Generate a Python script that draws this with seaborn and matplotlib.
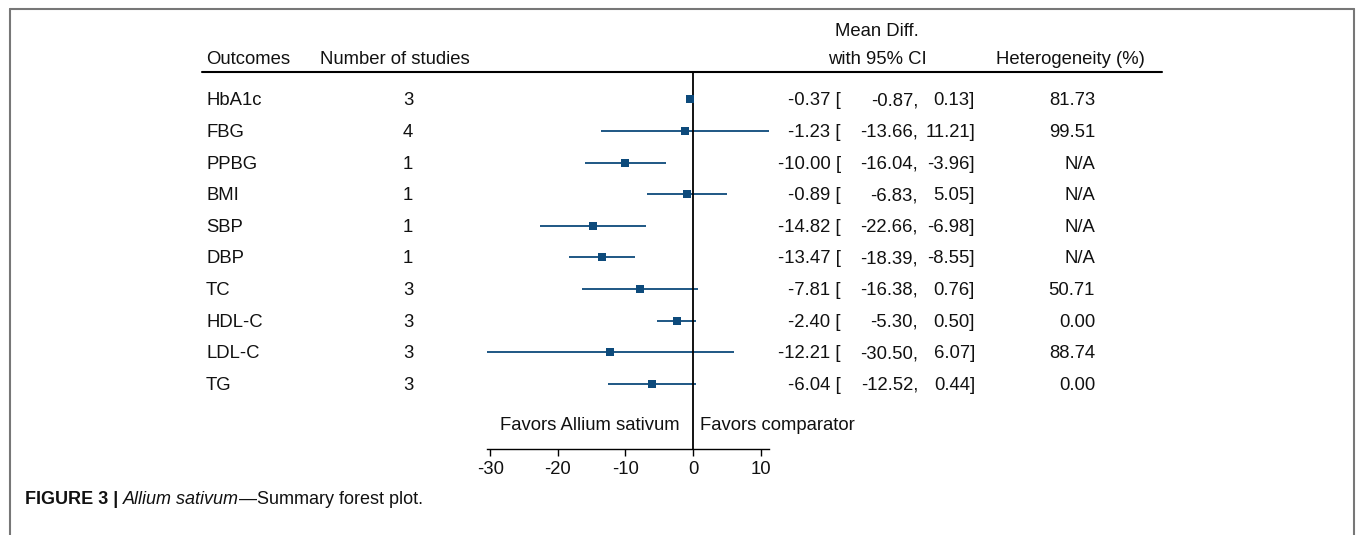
import matplotlib
matplotlib.use("Agg")
import matplotlib.pyplot as plt
import seaborn as sns
import pandas as pd
from matplotlib.transforms import blended_transform_factory
from matplotlib.lines import Line2D

# ---------------- data ----------------
outcomes = ["HbA1c", "FBG", "PPBG", "BMI", "SBP", "DBP", "TC", "HDL-C", "LDL-C", "TG"]
n_studies = [3, 4, 1, 1, 1, 1, 3, 3, 3, 3]
mean_diff = [-0.37, -1.23, -10.00, -0.89, -14.82, -13.47, -7.81, -2.40, -12.21, -6.04]
ci_low = [-0.87, -13.66, -16.04, -6.83, -22.66, -18.39, -16.38, -5.30, -30.50, -12.52]
ci_high = [0.13, 11.21, -3.96, 5.05, -6.98, -8.55, 0.76, 0.50, 6.07, 0.44]
heterogeneity = [81.73, 99.51, None, None, None, None, 50.71, 0.00, 88.74, 0.00]
x_ticks = [-30, -20, -10, 0, 10]
x_limits = [min(ci_low), max(ci_high)]

# ---------------- style ----------------
sns.set_theme(style="white")
plt.rcParams["font.family"] = ["Liberation Sans", "DejaVu Sans"]
FS = 13.3
TXT = "#111111"
COL = "#0d4a7b"

W, H = 1357, 535
fig = plt.figure(figsize=(W / 100, H / 100), dpi=100)


def fx(px):
    return px / W


def fy(py):
    return 1 - py / H


# geometry (pixels)
row0, pitch = 99.3, 31.6
top_px, axis_px = 72, 449
ppu = 6.76
zero_px = 693
left_px = zero_px + x_limits[0] * ppu
right_px = zero_px + x_limits[1] * ppu
toff = 1.5 / pitch  # small downward nudge for text rows

ax = fig.add_axes([fx(left_px), fy(axis_px), (right_px - left_px) / W, (axis_px - top_px) / H])
ax.set_facecolor("none")

df = pd.DataFrame({
    "outcome": outcomes,
    "row": list(range(len(outcomes))),
    "est": mean_diff,
    "lo": ci_low,
    "hi": ci_high,
})

ax.hlines(df["row"], df["lo"], df["hi"], color=COL, lw=1.3, zorder=2)
sns.scatterplot(data=df, x="est", y="row", marker="s", s=40, color=COL,
                edgecolor=COL, linewidth=0, ax=ax, zorder=4, legend=False)
ax.axvline(0, color="black", lw=1.3, zorder=3)

ax.set_xlim(*x_limits)
ax.set_ylim((axis_px - row0) / pitch, (top_px - row0) / pitch)
ax.set_xticks(x_ticks)
ax.set_xticklabels([str(t) for t in x_ticks])
ax.set_yticks([])
ax.set_xlabel("")
ax.set_ylabel("")
for s in ["top", "left", "right"]:
    ax.spines[s].set_visible(False)
ax.spines["bottom"].set_color("black")
ax.spines["bottom"].set_linewidth(1.0)
ax.tick_params(axis="x", direction="out", length=5, width=1, colors="black",
               labelsize=FS, labelcolor=TXT, pad=3.5, bottom=True)

# ---------------- table text ----------------
tr = blended_transform_factory(fig.transFigure, ax.transData)
kw = dict(transform=tr, va="center", fontsize=FS, color=TXT)
for i in range(len(outcomes)):
    y = i + toff
    ax.text(fx(206), y, outcomes[i], ha="left", **kw)
    ax.text(fx(408), y, str(n_studies[i]), ha="center", **kw)
    ax.text(fx(841), y, f"{mean_diff[i]:.2f} [", ha="right", **kw)
    ax.text(fx(918), y, f"{ci_low[i]:.2f},", ha="right", **kw)
    ax.text(fx(975), y, f"{ci_high[i]:.2f}]", ha="right", **kw)
    het = "N/A" if heterogeneity[i] is None else f"{heterogeneity[i]:.2f}"
    ax.text(fx(1095), y, het, ha="right", **kw)

# headers
hk = dict(va="center", fontsize=FS, color=TXT)
fig.text(fx(206), fy(59), "Outcomes", ha="left", **hk)
fig.text(fx(320), fy(59), "Number of studies", ha="left", **hk)
fig.text(fx(877), fy(32), "Mean Diff.", ha="center", **hk)
fig.text(fx(877), fy(59), "with 95% CI", ha="center", **hk)
fig.text(fx(996), fy(59), "Heterogeneity (%)", ha="left", **hk)
fig.add_artist(Line2D([fx(202), fx(1162)], [fy(top_px), fy(top_px)], color="black", lw=1.5))

# favors labels
fig.text(fx(680), fy(426), "Favors Allium sativum", ha="right", **hk)
fig.text(fx(700), fy(426), "Favors comparator", ha="left", **hk)

# frame
fc = "#777777"
fig.add_artist(Line2D([fx(10), fx(1354)], [fy(8.5), fy(8.5)], color=fc, lw=1.5))
fig.add_artist(Line2D([fx(10), fx(10)], [fy(8.5), fy(540)], color=fc, lw=1.5))
fig.add_artist(Line2D([fx(1354), fx(1354)], [fy(8.5), fy(540)], color=fc, lw=1.5))

# caption
fig.canvas.draw()
renderer = fig.canvas.get_renderer()
cx = 25
parts = [("FIGURE 3 | ", "bold", "normal"),
         ("Allium sativum", "normal", "italic"),
         ("\u2014Summary forest plot.", "normal", "normal")]
for txt, wt, st in parts:
    t = fig.text(fx(cx), fy(500), txt, ha="left", va="center", fontsize=13,
                 fontweight=wt, fontstyle=st, color=TXT)
    bb = t.get_window_extent(renderer=renderer)
    cx += bb.width

fig.savefig("out.png", dpi=100)
